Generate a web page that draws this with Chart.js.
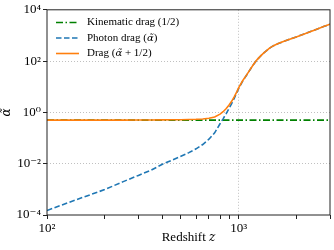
<!DOCTYPE html>
<html>
<head>
<meta charset="utf-8">
<script src="https://cdn.jsdelivr.net/npm/chart.js@4"></script>
<style>
  html, body { margin: 0; padding: 0; background: #fff; }
</style>
</head>
<body>
<canvas id="dragChart" width="334" height="250"></canvas>
<script>
// values
const redshift = [100, 130, 160, 200, 250, 300, 350, 400, 450, 500, 550, 600, 650, 700, 750, 800, 830, 860, 890, 920, 950, 980, 1000,
  1050, 1100, 1150, 1200, 1250, 1300, 1350, 1400, 1450, 1500, 1550, 1600, 1700, 1800, 2000, 2200, 2500, 2800, 3000];
const photonDrag = [1.5e-4, 3.1e-4, 5.4e-4, 9.8e-4, 2.0e-3, 3.5e-3, 5.6e-3, 9.5e-3, 0.0138, 0.0195, 0.027, 0.038, 0.056, 0.09, 0.16, 0.36, 0.56, 0.88, 1.4, 2.2, 3.6, 6.0, 8.5,
  16.6, 28, 47, 76, 114, 155, 203, 257, 318, 375, 425, 472, 568, 665, 875, 1140, 1640, 2260, 2740];
const totalDrag = [0.50015, 0.5003, 0.5005, 0.501, 0.502, 0.5035, 0.5056, 0.5095, 0.5138, 0.5195, 0.527, 0.538, 0.556, 0.59, 0.66, 0.86, 1.06, 1.38, 1.9, 2.7, 4.1, 6.5, 9.0,
  17.1, 28.5, 47.5, 76.5, 114.5, 155.5, 203.5, 257.5, 318.5, 375.5, 425.5, 472.5, 568.5, 665.5, 875.5, 1140.5, 1640.5, 2260.5, 2740.5];
const kinRedshift = [100, 3000];
const kinematicDrag = [0.5, 0.5];

const xTicks = [100, 200, 300, 400, 500, 600, 700, 800, 900, 1000, 2000, 3000];
const xMajor = [100, 1000];
const xLabels = ['10²', '10³'];
const yTicks = [1e-4, 1e-2, 1, 1e2, 1e4];
const yLabels = ['10⁻⁴', '10⁻²', '10⁰', '10²', '10⁴'];

const serif = "'Liberation Serif', 'DejaVu Serif', serif";
const mathFont = "'DejaVu Serif', serif";
const toPoints = (xs, ys) => xs.map((x, i) => ({ x: x, y: ys[i] }));

// draw a string where the math bits (α̃, z) use an italic font
function drawMixed(ctx, parts, x, y, size) {
  parts.forEach((p) => {
    ctx.font = p.math ? ('italic ' + (size - 1) + 'px ' + mathFont) : (size + 'px ' + serif);
    ctx.fillText(p.text, x, y);
    x += ctx.measureText(p.text).width;
  });
}
function partsWidth(ctx, parts, size) {
  let w = 0;
  parts.forEach((p) => {
    ctx.font = p.math ? ('italic ' + (size - 1) + 'px ' + mathFont) : (size + 'px ' + serif);
    w += ctx.measureText(p.text).width;
  });
  return w;
}

const legendParts = [
  [{ text: 'Kinematic drag (1/2)' }],
  [{ text: 'Photon drag (' }, { text: 'α̃', math: true }, { text: ')' }],
  [{ text: 'Drag (' }, { text: 'α̃', math: true }, { text: ' + 1/2)' }]
];
const xTitleParts = [{ text: 'Redshift ' }, { text: 'z', math: true }];

// matplotlib style box round the axes
const framePlugin = {
  id: 'frame',
  afterDatasetsDraw(chart) {
    const { ctx, chartArea: a } = chart;
    ctx.save();
    ctx.strokeStyle = '#222';
    ctx.lineWidth = 1;
    ctx.strokeRect(a.left, a.top, a.right - a.left, a.bottom - a.top);
    ctx.restore();
  }
};

// legend inside the plot (top left) and the x title with italic z
const textPlugin = {
  id: 'innerText',
  afterDraw(chart) {
    const ctx = chart.ctx;
    const a = chart.chartArea;
    ctx.save();
    ctx.fillStyle = 'rgba(255,255,255,0.9)';
    ctx.fillRect(52, 12, 100, 48);
    ctx.textBaseline = 'middle';
    legendParts.forEach((parts, i) => {
      const ds = chart.data.datasets[i];
      const y = 22.5 + i * 15.5;
      ctx.strokeStyle = ds.borderColor;
      ctx.lineWidth = ds.borderWidth;
      ctx.setLineDash(ds.borderDash || []);
      ctx.beginPath();
      ctx.moveTo(56, y);
      ctx.lineTo(79, y);
      ctx.stroke();
      ctx.setLineDash([]);
      ctx.fillStyle = '#000';
      drawMixed(ctx, parts, 87, y, 11);
    });
    const w = partsWidth(ctx, xTitleParts, 13);
    ctx.fillStyle = '#000';
    drawMixed(ctx, xTitleParts, (a.left + a.right) / 2 - w / 2, 238, 13);
    ctx.restore();
  }
};

const ctx = document.getElementById('dragChart').getContext('2d');
const dragChart = new Chart(ctx, {
  type: 'line',
  data: {
    datasets: [{
      label: 'Kinematic drag (1/2)',
      data: toPoints(kinRedshift, kinematicDrag),
      borderColor: '#008000',
      borderWidth: 1.6,
      borderDash: [7, 2.5, 1.5, 2.5],
      order: 3
    }, {
      label: 'Photon drag (α̃)',
      data: toPoints(redshift, photonDrag),
      borderColor: '#1f77b4',
      borderWidth: 1.6,
      borderDash: [5.5, 2.5],
      order: 2
    }, {
      label: 'Drag (α̃ + 1/2)',
      data: toPoints(redshift, totalDrag),
      borderColor: '#ff7f0e',
      borderWidth: 1.6,
      order: 1
    }]
  },
  options: {
    responsive: false,
    animation: false,
    layout: { padding: { top: 7, right: 4, left: 0, bottom: 0 } },
    elements: { point: { radius: 0 }, line: { tension: 0, fill: false } },
    plugins: {
      legend: { display: false },
      tooltip: { enabled: false }
    },
    scales: {
      x: {
        type: 'logarithmic',
        min: 100,
        max: 3000,
        afterBuildTicks: (scale) => { scale.ticks = xTicks.map(v => ({ value: v })); },
        afterFit: (scale) => { scale.height = 35; },
        ticks: {
          autoSkip: false,
          maxRotation: 0,
          padding: 2,
          color: '#000',
          font: { family: serif, size: 13 },
          callback: (v) => { const k = xMajor.indexOf(v); return k >= 0 ? xLabels[k] : ''; }
        },
        grid: {
          color: (c) => (c.tick && c.tick.value === 1000) ? '#b0b0b0' : 'rgba(0,0,0,0)',
          lineWidth: 0.8,
          tickColor: '#222',
          tickLength: 4,
          tickWidth: 1,
          tickBorderDash: []
        },
        border: { display: false, dash: [1, 2] },
        title: { display: false }
      },
      y: {
        type: 'logarithmic',
        min: 1e-4,
        max: 1e4,
        afterBuildTicks: (scale) => { scale.ticks = yTicks.map(v => ({ value: v })); },
        afterFit: (scale) => { scale.width = 47; },
        ticks: {
          autoSkip: false,
          padding: 2,
          color: '#000',
          font: { family: serif, size: 13 },
          callback: (v) => { const k = yTicks.indexOf(v); return k >= 0 ? yLabels[k] : ''; }
        },
        grid: {
          color: (c) => (c.tick && c.tick.value > 1e-4 && c.tick.value < 1e4) ? '#b0b0b0' : 'rgba(0,0,0,0)',
          lineWidth: 0.8,
          tickColor: '#222',
          tickLength: 4,
          tickWidth: 1,
          tickBorderDash: []
        },
        border: { display: false, dash: [1, 2] },
        title: {
          display: true,
          text: 'α̃',
          color: '#000',
          font: { family: mathFont, size: 12, style: 'italic' },
          padding: { top: 0, bottom: 0 }
        }
      }
    }
  },
  plugins: [framePlugin, textPlugin]
});
</script>
</body>
</html>
